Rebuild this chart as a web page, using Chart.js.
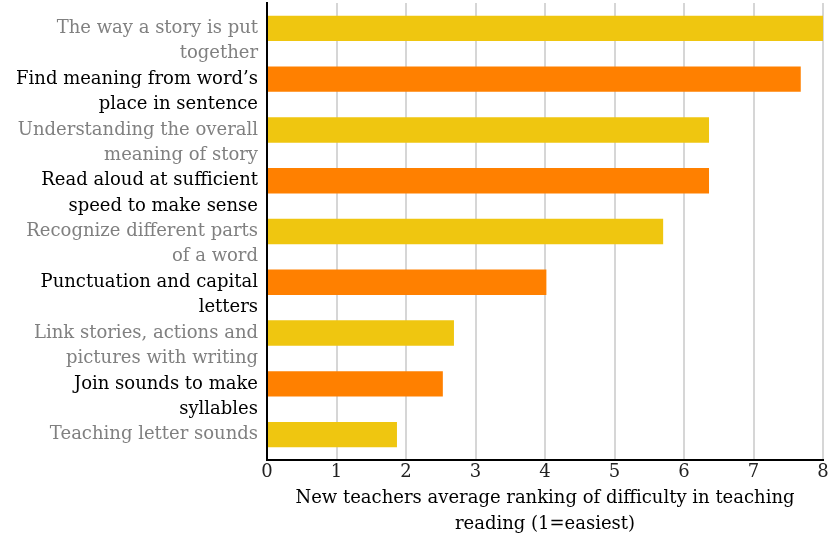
<!DOCTYPE html>
<html>
<head>
<meta charset="utf-8">
<script src="https://cdn.jsdelivr.net/npm/chart.js@4"></script>
<style>
  body { margin: 0; background: #fff; }
</style>
</head>
<body>
<canvas id="myChart" width="830" height="537"></canvas>
<script>
// skills, top to bottom
var skills = [
    ['The way a story is put', 'together'],
    ['Find meaning from word\u2019s', 'place in sentence'],
    ['Understanding the overall', 'meaning of story'],
    ['Read aloud at sufficient', 'speed to make sense'],
    ['Recognize different parts', 'of a word'],
    ['Punctuation and capital', 'letters'],
    ['Link stories, actions and', 'pictures with writing'],
    ['Join sounds to make', 'syllables'],
    'Teaching letter sounds'
];
var ranking = [8.0, 7.68, 6.36, 6.36, 5.70, 4.02, 2.69, 2.53, 1.87];
var xTicks = [0, 1, 2, 3, 4, 5, 6, 7, 8];
var xTitle = ['New teachers average ranking of difficulty in teaching', 'reading (1=easiest)'];

var yellow = '#efc610';
var orange = '#ff8000';
var barColors = ranking.map((v, i) => i % 2 == 0 ? yellow : orange);

var serif = '"DejaVu Serif", serif';

let chart = document.getElementById('myChart').getContext('2d');

let rankChart = new Chart(chart, {
    type: 'bar',
    data: {
        labels: skills,
        datasets: [
            {
                data: ranking,
                backgroundColor: barColors,
                borderWidth: 0,
                barPercentage: 0.5,
                categoryPercentage: 1.0
            }
        ]
    },
    options: {
        indexAxis: 'y',
        responsive: false,
        animation: false,
        layout: { padding: { top: 3, right: 7, left: 0, bottom: 0 } },
        plugins: {
            legend: { display: false },
            tooltip: { enabled: false }
        },
        scales: {
            x: {
                min: 0,
                max: 8,
                afterBuildTicks: (scale) => { scale.ticks = xTicks.map(v => ({ value: v })); },
                afterFit: (scale) => {
                    scale.height = 77;
                    scale.paddingLeft = 0;
                    scale.paddingRight = 0;
                },
                grid: {
                    color: '#d6d6d6',
                    lineWidth: 2,
                    drawTicks: false
                },
                border: { color: '#000', width: 2 },
                ticks: {
                    color: '#222',
                    padding: 2,
                    font: { family: serif, size: 18 }
                },
                title: {
                    display: true,
                    text: xTitle,
                    color: '#000',
                    padding: { top: 0, bottom: 0 },
                    font: { family: serif, size: 18, lineHeight: 1.45 }
                }
            },
            y: {
                afterFit: (scale) => {
                    scale.width = 267;
                    scale.paddingTop = 0;
                    scale.paddingBottom = 0;
                },
                grid: { display: false, drawTicks: false },
                border: { color: '#000', width: 2 },
                ticks: {
                    autoSkip: false,
                    padding: 9,
                    // first line sits on the bar, the rest hangs below it
                    callback: function (value, index) {
                        var lab = skills[index];
                        return Array.isArray(lab) ? [''].concat(lab) : lab;
                    },
                    color: (ctx) => ctx.index % 2 == 0 ? '#808080' : '#000',
                    font: { family: serif, size: 18, lineHeight: 1.4 }
                }
            }
        }
    }
});
</script>
</body>
</html>
